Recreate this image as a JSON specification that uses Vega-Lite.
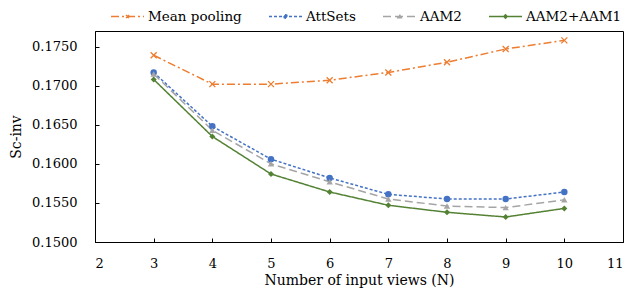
{
  "$schema": "https://vega.github.io/schema/vega-lite/v6.json",
  "width": 528,
  "height": 211,
  "autosize": {"type": "none"},
  "padding": {"left": 95, "top": 31, "right": 17, "bottom": 48},
  "background": "white",
  "config": {
    "view": {"stroke": "#000", "strokeWidth": 1},
    "font": "DejaVu Serif",
    "axis": {"labelColor": "#000", "titleColor": "#000", "domainColor": "#000", "tickColor": "#000", "grid": false, "labelFont": "DejaVu Serif", "titleFont": "DejaVu Serif", "titleFontWeight": "normal", "labelFontSize": 13, "titleFontSize": 14, "tickSize": -4, "tickWidth": 1}
  },
  "data": {"values": [
    {"series": "Mean pooling", "N": 3, "value": 0.1739},
    {"series": "Mean pooling", "N": 4, "value": 0.1702},
    {"series": "Mean pooling", "N": 5, "value": 0.1702},
    {"series": "Mean pooling", "N": 6, "value": 0.1707},
    {"series": "Mean pooling", "N": 7, "value": 0.1717},
    {"series": "Mean pooling", "N": 8, "value": 0.1730},
    {"series": "Mean pooling", "N": 9, "value": 0.1747},
    {"series": "Mean pooling", "N": 10, "value": 0.1758},
    {"series": "AttSets", "N": 3, "value": 0.1717},
    {"series": "AttSets", "N": 4, "value": 0.1648},
    {"series": "AttSets", "N": 5, "value": 0.1606},
    {"series": "AttSets", "N": 6, "value": 0.1582},
    {"series": "AttSets", "N": 7, "value": 0.1561},
    {"series": "AttSets", "N": 8, "value": 0.1555},
    {"series": "AttSets", "N": 9, "value": 0.1555},
    {"series": "AttSets", "N": 10, "value": 0.1564},
    {"series": "AAM2", "N": 3, "value": 0.1715},
    {"series": "AAM2", "N": 4, "value": 0.1643},
    {"series": "AAM2", "N": 5, "value": 0.1600},
    {"series": "AAM2", "N": 6, "value": 0.1577},
    {"series": "AAM2", "N": 7, "value": 0.1555},
    {"series": "AAM2", "N": 8, "value": 0.1546},
    {"series": "AAM2", "N": 9, "value": 0.1544},
    {"series": "AAM2", "N": 10, "value": 0.1554},
    {"series": "AAM2+AAM1", "N": 3, "value": 0.1708},
    {"series": "AAM2+AAM1", "N": 4, "value": 0.1635},
    {"series": "AAM2+AAM1", "N": 5, "value": 0.1587},
    {"series": "AAM2+AAM1", "N": 6, "value": 0.1564},
    {"series": "AAM2+AAM1", "N": 7, "value": 0.1547},
    {"series": "AAM2+AAM1", "N": 8, "value": 0.1538},
    {"series": "AAM2+AAM1", "N": 9, "value": 0.1532},
    {"series": "AAM2+AAM1", "N": 10, "value": 0.1543}
  ]},
  "encoding": {
    "x": {"field": "N", "type": "quantitative",
      "scale": {"domain": [2, 11], "nice": false, "zero": false},
      "axis": {"values": [2, 3, 4, 5, 6, 7, 8, 9, 10, 11], "title": "Number of input views (N)", "labelPadding": 19, "titlePadding": 3}},
    "y": {"field": "value", "type": "quantitative",
      "scale": {"domain": [0.15, 0.177], "nice": false, "zero": false},
      "axis": {"values": [0.15, 0.155, 0.16, 0.165, 0.17, 0.175], "format": ".4f", "title": "Sc-inv", "labelPadding": 22, "titlePadding": 8}}
  },
  "layer": [
    {
      "mark": {"type": "line", "strokeWidth": 1.5},
      "encoding": {
        "color": {"field": "series", "type": "nominal",
          "scale": {"domain": ["Mean pooling", "AttSets", "AAM2", "AAM2+AAM1"], "range": ["#ED7D31", "#4472C4", "#A5A5A5", "#548235"]},
          "legend": {
            "orient": "none", "legendX": 15, "legendY": -32, "direction": "horizontal", "title": null,
            "symbolSize": 1089, "symbolStrokeWidth": 1.5, "labelFontSize": 13.5, "labelColor": "#000", "labelFont": "DejaVu Serif",
            "columnPadding": 24, "labelOffset": 3, "padding": 0,
            "encode": {"symbols": {"update": {
              "shape": {"signal": "datum.value === 'Mean pooling' ? 'M-1,0H1M-0.09,-0.09L0.09,0.09M-0.09,0.09L0.09,-0.09' : datum.value === 'AttSets' ? 'M-1,0H1M-0.1,0A0.1,0.1 0 1,0 0.1,0A0.1,0.1 0 1,0 -0.1,0Z' : datum.value === 'AAM2' ? 'M-1,0H1M0,-0.11L0.1,0.07L-0.1,0.07Z' : 'M-1,0H1M0,-0.1L0.1,0L0,0.1L-0.1,0Z'"},
              "fill": {"scale": "color", "field": "value"}
            }}}
          }},
        "strokeDash": {"field": "series", "type": "nominal",
          "scale": {"domain": ["Mean pooling", "AttSets", "AAM2", "AAM2+AAM1"], "range": [[8, 3, 2, 3], [3, 2], [8, 4], [1, 0]]},
          "legend": null}
      }
    },
    {
      "transform": [{"filter": "datum.series === 'Mean pooling'"}],
      "mark": {"type": "point", "filled": false, "opacity": 1, "strokeWidth": 1.3, "size": 36, "shape": "M-1,-1L1,1M-1,1L1,-1", "color": "#ED7D31"}
    },
    {
      "transform": [{"filter": "datum.series === 'AttSets'"}],
      "mark": {"type": "point", "filled": true, "opacity": 1, "size": 42, "shape": "circle", "color": "#4472C4"}
    },
    {
      "transform": [{"filter": "datum.series === 'AAM2'"}],
      "mark": {"type": "point", "filled": true, "opacity": 1, "size": 40, "shape": "triangle-up", "color": "#A5A5A5"}
    },
    {
      "transform": [{"filter": "datum.series === 'AAM2+AAM1'"}],
      "mark": {"type": "point", "filled": true, "opacity": 1, "size": 36, "shape": "diamond", "color": "#548235"}
    }
  ]
}
